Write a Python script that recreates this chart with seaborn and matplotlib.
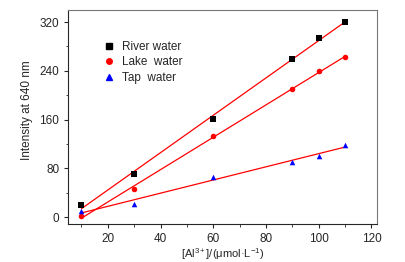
import numpy as np
import pandas as pd
import matplotlib
matplotlib.use("Agg")
import matplotlib.pyplot as plt
import seaborn as sns
from matplotlib.ticker import MultipleLocator

conc = [10, 30, 60, 90, 100, 110]
river = [20, 70, 161, 260, 294, 320]
lake = [1, 46, 133, 210, 240, 262]
tap = [10, 22, 66, 91, 100, 119]

sns.set_style("ticks")
plt.rcParams['font.family'] = ['Arial', 'Liberation Sans', 'DejaVu Sans']
plt.rcParams['mathtext.fontset'] = 'custom'
plt.rcParams['mathtext.rm'] = 'Liberation Sans'
plt.rcParams['mathtext.it'] = 'Liberation Sans'

fig, ax = plt.subplots(figsize=(4.06, 2.62), dpi=100)
fig.subplots_adjust(left=0.168, right=0.928, top=0.962, bottom=0.145)

df = pd.DataFrame({"conc": conc, "River water": river,
                   "Lake  water": lake, "Tap  water": tap})
styles = [("River water", "black", "s"),
          ("Lake  water", "red", "o"),
          ("Tap  water", "blue", "^")]

for name, col, mk in styles:
    sns.regplot(data=df, x="conc", y=name, ax=ax, ci=None, marker=mk,
                scatter_kws=dict(color=col, s=16, zorder=3, linewidths=0, alpha=1),
                line_kws=dict(color="red", lw=0.9, zorder=2))

handles = [plt.Line2D([], [], ls="none", marker=mk, color=col, markersize=4)
           for name, col, mk in styles]
ax.legend(handles, [s[0] for s in styles], loc="upper left",
          bbox_to_anchor=(0.07, 0.905), frameon=False, fontsize=8.5,
          handletextpad=0.3, labelspacing=0.3, handlelength=1.5)

ax.set_xlim(5, 122)
ax.set_ylim(-11.5, 340)
ax.xaxis.set_major_locator(MultipleLocator(20))
ax.xaxis.set_minor_locator(MultipleLocator(10))
ax.yaxis.set_major_locator(MultipleLocator(80))
ax.yaxis.set_minor_locator(MultipleLocator(40))
ax.tick_params(which="major", length=3, width=0.8, labelsize=8.5, direction="out")
ax.tick_params(which="minor", length=1.8, width=0.6, direction="out")
for sp in ax.spines.values():
    sp.set_linewidth(0.8)
ax.spines["right"].set_color("#777777")
ax.spines["top"].set_color("#777777")

ax.set_xlabel("[Al$^{3+}$]/(\u03bcmol\u00b7L$^{-1}$)", fontsize=8, labelpad=1)
ax.set_ylabel("Intensity at 640 nm", fontsize=8.5)
ax.yaxis.set_label_coords(-0.115, 0.53)

fig.savefig("out.png", dpi=100)
